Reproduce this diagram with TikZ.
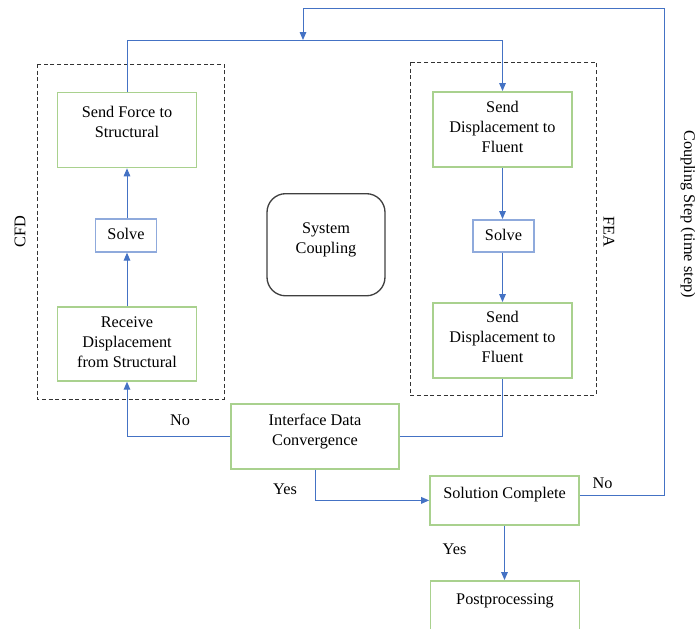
\documentclass[tikz,border=0pt]{standalone}
\usepackage{fontspec}
\setmainfont{Liberation Serif}
\usetikzlibrary{arrows.meta,positioning,calc}
\usepackage{xcolor}
\definecolor{stepgreen}{RGB}{169,209,142}
\definecolor{flowblue}{RGB}{68,114,196}
\definecolor{solveblue}{RGB}{143,170,220}
\definecolor{hubgray}{RGB}{64,64,64}

\begin{document}
\begin{tikzpicture}[x=0.75pt, y=-0.75pt,
    every node/.style={font=\fontsize{12.2}{15}\selectfont, align=center, inner ysep=0pt},
    stepbox/.style={draw=stepgreen, line width=1.3pt, minimum width=104.25pt, anchor=north},
    solvebox/.style={draw=solveblue, line width=1.2pt, minimum width=46pt, anchor=north},
    hubbox/.style={draw=hubgray, line width=1pt, rounded corners=14pt, minimum width=88.5pt, anchor=north},
    groupbox/.style={draw=black!80, dash pattern=on 3pt off 2pt, line width=0.7pt},
    flow/.style={draw=flowblue, line width=0.75pt, -{Triangle[length=6pt,width=5pt]}},
    link/.style={draw=flowblue, line width=0.75pt}]
    \useasboundingbox (0,0) rectangle (695,628);
    \clip (0,0) rectangle (695,628);

    % CFD side
    \draw[groupbox] (37,64) rectangle (224,399);
    \node[rotate=90] (cfdlabel) at (20,232) {CFD};
    \node[stepbox, text height=33.6pt, text depth=22.6pt] (sendforce) at (127,91.7) {Send Force to\\Structural};
    \node[solvebox, text height=15.6pt, text depth=9.2pt] (solvecfd) at (126,218) {Solve};
    \node[stepbox, text height=45.4pt, text depth=10.1pt] (receive) at (127,306) {Receive\\Displacement\\from Structural};

    % FEA side
    \draw[groupbox] (410,62) rectangle (596,395);
    \node[rotate=-90] (fealabel) at (609,232) {FEA};
    \node[stepbox, text height=45.4pt, text depth=10.9pt] (featop) at (502.5,91) {Send\\Displacement to\\Fluent};
    \node[solvebox, text height=15.4pt, text depth=8.6pt] (solvefea) at (503.5,219) {Solve};
    \node[stepbox, text height=44.9pt, text depth=11.4pt] (feabot) at (502.5,302) {Send\\Displacement to\\Fluent};

    % coupling and convergence
    \node[hubbox, text height=44.9pt, text depth=31.7pt] (coupling) at (326,193) {System\\Coupling};
    \node[stepbox, minimum width=126pt, text height=31.1pt, text depth=17.6pt] (interface) at (315,403) {Interface Data\\Convergence};
    \node[stepbox, minimum width=111.75pt, text height=16.9pt, text depth=19.9pt] (solution) at (504.5,475) {Solution Complete};
    \node[stepbox, minimum width=111.75pt, text height=17.6pt, text depth=30pt] (postproc) at (505,580) {Postprocessing};
    \node[rotate=-90] (steplabel) at (688,214) {Coupling Step (time step)};

    % time step loop
    \coordinate (split) at (303,40);
    \coordinate (loopcorner) at (664,8);
    \draw[flow] ([yshift=3.4pt]solution.east) -| (loopcorner) -| (split);
    \draw[link] (split) -| (sendforce.north);
    \draw[flow] (split) -| (featop.north);

    % inner steps
    \draw[flow] (receive.north) -- (receive.north |- solvecfd.south);
    \draw[flow] (sendforce.south |- solvecfd.north) -- (sendforce.south);
    \draw[flow] (featop.south) -- (featop.south |- solvefea.north);
    \draw[flow] (feabot.north |- solvefea.south) -- (feabot.north);

    % convergence checks
    \draw[flow] (interface.west) -| (receive.south);
    \draw[link] (interface.east) -| (feabot.south);
    \draw[flow] (interface.south) |- (solution.west);
    \draw[flow] (solution.south) -- (solution.south |- postproc.north);

    \node (nocfd) at (180,420) {No};
    \node (yesconv) at (285,489) {Yes};
    \node (noloop) at (602.5,483) {No};
    \node (yesdone) at (454.5,549) {Yes};
\end{tikzpicture}
\end{document}
